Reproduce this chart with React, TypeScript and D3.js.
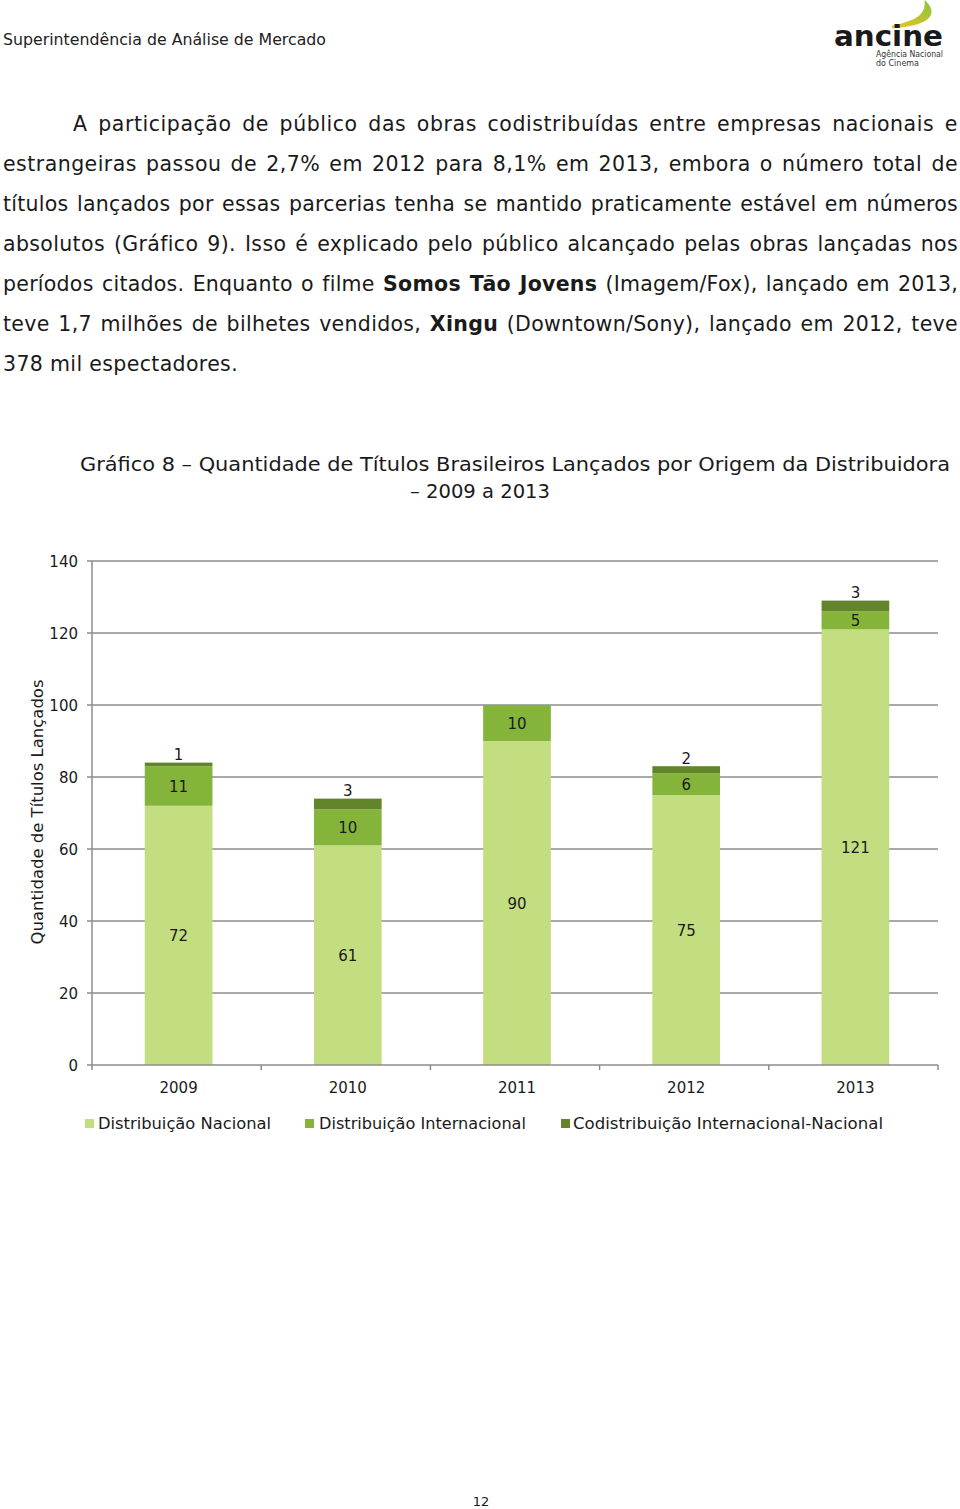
import { useEffect, useRef } from 'react'
import * as d3 from 'd3'

// chart data (Gráfico 8)
const years = ['2009', '2010', '2011', '2012', '2013']
const nacional = [72, 61, 90, 75, 121]
const internacional = [11, 10, 10, 6, 5]
const codistribuicao = [1, 3, 0, 2, 3]
const seriesNames = ['Distribuição Nacional', 'Distribuição Internacional', 'Codistribuição Internacional-Nacional']
const seriesColors = ['#c3de80', '#84b43a', '#62852a']
const yTicks = [0, 20, 40, 60, 80, 100, 120, 140]

const paragraph = [
  [{ t: 'A participação de público das obras codistribuídas entre empresas nacionais e' }],
  [{ t: 'estrangeiras passou de 2,7% em 2012 para 8,1% em 2013, embora o número total de' }],
  [{ t: 'títulos lançados por essas parcerias tenha se mantido praticamente estável em números' }],
  [{ t: 'absolutos (Gráfico 9). Isso é explicado pelo público alcançado pelas obras lançadas nos' }],
  [{ t: 'períodos citados. Enquanto o filme ' }, { t: 'Somos Tão Jovens', b: true }, { t: ' (Imagem/Fox), lançado em 2013,' }],
  [{ t: 'teve 1,7 milhões de bilhetes vendidos, ' }, { t: 'Xingu', b: true }, { t: ' (Downtown/Sony), lançado em 2012, teve' }],
  [{ t: '378 mil espectadores.' }],
]

const FONT = "'DejaVu Sans', sans-serif"

export default function App() {
  const svgRef = useRef<SVGSVGElement>(null)

  useEffect(() => {
    const svg = d3.select(svgRef.current)
    svg.selectAll('*').remove()

    // --- header ---
    svg.append('text').attr('x', 3).attr('y', 45).attr('font-size', 15).attr('fill', '#222')
      .attr('textLength', 323).attr('lengthAdjust', 'spacingAndGlyphs')
      .text('Superintendência de Análise de Mercado')

    const defs = svg.append('defs')
    const grad = defs.append('linearGradient').attr('id', 'sw').attr('x1', '0').attr('x2', '1').attr('y1', '1').attr('y2', '0')
    grad.append('stop').attr('offset', '0').attr('stop-color', '#f2c21b')
    grad.append('stop').attr('offset', '1').attr('stop-color', '#8cc63f')
    svg.append('path').attr('d', 'M926,3 C936,14 930,24 892,27 C920,21 926,14 926,3 Z')
      .attr('fill', 'url(#sw)').attr('stroke', 'url(#sw)').attr('stroke-width', 2.5)
    svg.append('text').attr('x', 834).attr('y', 46).attr('font-size', 29).attr('font-weight', 'bold')
      .attr('fill', '#1a1a1a').attr('textLength', 109).attr('lengthAdjust', 'spacingAndGlyphs').text('ancine')
    svg.append('text').attr('x', 876).attr('y', 57).attr('font-size', 8).attr('fill', '#333')
      .attr('textLength', 67).attr('lengthAdjust', 'spacingAndGlyphs').text('Agência Nacional')
    svg.append('text').attr('x', 876).attr('y', 65.5).attr('font-size', 8).attr('fill', '#333').text('do Cinema')

    // --- paragraph (justified) ---
    paragraph.forEach((parts, i) => {
      const x0 = i === 0 ? 73 : 3
      const t = svg.append('text').attr('x', x0).attr('y', 131 + i * 40)
        .attr('font-size', 20.5).attr('fill', '#1a1a1a')
      parts.forEach(p => {
        t.append('tspan').attr('font-weight', p.b ? 'bold' : null).text(p.t)
      })
      const node = t.node() as SVGTextElement
      const full = parts.map(p => p.t).join('')
      if (i < paragraph.length - 1) {
        const natural = node.getComputedTextLength()
        const spaces = (full.match(/ /g) || []).length
        const extra = 958 - x0 - natural
        const ls = (extra * 0.55) / full.length
        t.attr('letter-spacing', ls)
        t.attr('word-spacing', (extra - ls * full.length) / spaces)
      } else {
        t.attr('letter-spacing', 0.35)
      }
    })

    // --- title ---
    svg.append('text').attr('x', 515).attr('y', 471).attr('text-anchor', 'middle').attr('font-size', 20)
      .attr('fill', '#1a1a1a').attr('textLength', 870).attr('lengthAdjust', 'spacingAndGlyphs')
      .text('Gráfico 8 – Quantidade de Títulos Brasileiros Lançados por Origem da Distribuidora')
    svg.append('text').attr('x', 480).attr('y', 498).attr('text-anchor', 'middle').attr('font-size', 20)
      .attr('fill', '#1a1a1a').attr('textLength', 140).attr('lengthAdjust', 'spacingAndGlyphs')
      .text('– 2009 a 2013')

    // --- chart ---
    const left = 92, right = 938, top = 561, bottom = 1065
    const x = d3.scaleBand().domain(years).range([left + 2, right + 2]).paddingInner(0.6).paddingOuter(0.3)
    const y = d3.scaleLinear().domain([0, 140]).range([bottom, top])
    const grid = '#8c8c8c'

    const g = svg.append('g').attr('font-family', FONT)
    yTicks.forEach(v => {
      if (v > 0) g.append('line').attr('x1', left).attr('x2', right).attr('y1', y(v)).attr('y2', y(v))
        .attr('stroke', grid).attr('stroke-width', 1.5)
      g.append('line').attr('x1', left - 5).attr('x2', left).attr('y1', y(v)).attr('y2', y(v))
        .attr('stroke', grid).attr('stroke-width', 1.5)
      g.append('text').attr('x', 78).attr('y', y(v) + 5.5).attr('text-anchor', 'end')
        .attr('font-size', 15).attr('fill', '#1a1a1a').text(v)
    })

    const rows = years.map((yr, i) => ({ year: yr, nac: nacional[i], int: internacional[i], cod: codistribuicao[i] }))
    const stack = d3.stack<any>().keys(['nac', 'int', 'cod'])(rows)
    stack.forEach((layer, li) => {
      layer.forEach((d, i) => {
        const val = d[1] - d[0]
        if (val <= 0) return
        const yr = years[i]
        g.append('rect').attr('x', x(yr)!).attr('width', x.bandwidth())
          .attr('y', y(d[1])).attr('height', y(d[0]) - y(d[1])).attr('fill', seriesColors[li])
        const cx = x(yr)! + x.bandwidth() / 2
        const ly = li === 2 ? y(d[1]) - 8 : (y(d[0]) + y(d[1])) / 2
        g.append('text').attr('x', cx).attr('y', ly + 5.5).attr('text-anchor', 'middle')
          .attr('font-size', 15).attr('fill', '#1a1a1a').text(val)
      })
    })

    // axes lines
    g.append('line').attr('x1', left).attr('x2', left).attr('y1', top).attr('y2', bottom)
      .attr('stroke', grid).attr('stroke-width', 1.5)
    g.append('line').attr('x1', left).attr('x2', right).attr('y1', bottom).attr('y2', bottom)
      .attr('stroke', grid).attr('stroke-width', 1.5)
    const step = (right - left) / years.length
    d3.range(years.length + 1).forEach(k => {
      g.append('line').attr('x1', left + k * step).attr('x2', left + k * step).attr('y1', bottom).attr('y2', bottom + 5)
        .attr('stroke', grid).attr('stroke-width', 1.5)
    })
    years.forEach(yr => {
      g.append('text').attr('x', x(yr)! + x.bandwidth() / 2).attr('y', 1093).attr('text-anchor', 'middle')
        .attr('font-size', 15).attr('fill', '#1a1a1a').text(yr)
    })

    g.append('text').attr('transform', 'translate(43,812) rotate(-90)').attr('text-anchor', 'middle')
      .attr('font-size', 15).attr('fill', '#1a1a1a').attr('textLength', 265).attr('lengthAdjust', 'spacingAndGlyphs')
      .text('Quantidade de Títulos Lançados')

    // legend
    const legendX = [{ sq: 85, tx: 98, w: 173 }, { sq: 305, tx: 319, w: 207 }, { sq: 561, tx: 573, w: 310 }]
    seriesNames.forEach((name, i) => {
      g.append('rect').attr('x', legendX[i].sq).attr('y', 1119).attr('width', 9).attr('height', 9).attr('fill', seriesColors[i])
      g.append('text').attr('x', legendX[i].tx).attr('y', 1129).attr('font-size', 15).attr('fill', '#1a1a1a')
        .attr('textLength', legendX[i].w).attr('lengthAdjust', 'spacingAndGlyphs').text(name)
    })

    // page number
    svg.append('text').attr('x', 481).attr('y', 1506).attr('text-anchor', 'middle').attr('font-size', 13)
      .attr('fill', '#1a1a1a').text('12')
  }, [])

  return (
    <svg ref={svgRef} width={960} height={1509}
      style={{ position: 'absolute', left: 0, top: 0, background: '#fff', fontFamily: FONT }} />
  )
}
